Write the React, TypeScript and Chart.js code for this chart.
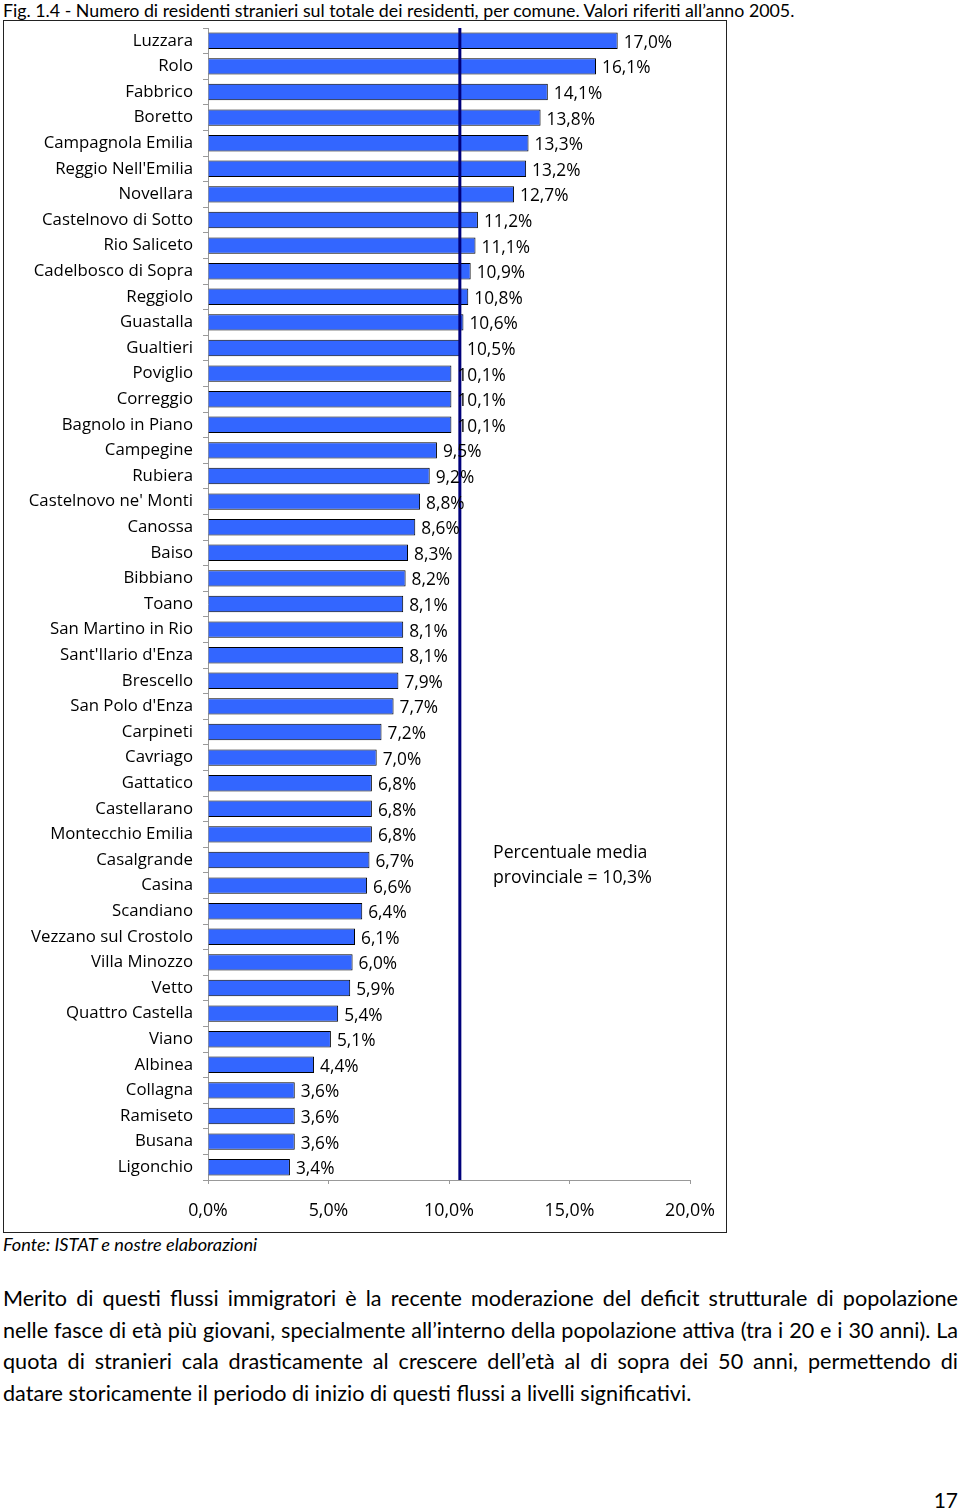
import React, { useEffect, useRef } from "react";
import { Chart, registerables } from "chart.js";

Chart.register(...registerables);

const comuni: string[] = [
  "Luzzara", "Rolo", "Fabbrico", "Boretto", "Campagnola Emilia", "Reggio Nell'Emilia",
  "Novellara", "Castelnovo di Sotto", "Rio Saliceto", "Cadelbosco di Sopra", "Reggiolo",
  "Guastalla", "Gualtieri", "Poviglio", "Correggio", "Bagnolo in Piano", "Campegine",
  "Rubiera", "Castelnovo ne' Monti", "Canossa", "Baiso", "Bibbiano", "Toano",
  "San Martino in Rio", "Sant'Ilario d'Enza", "Brescello", "San Polo d'Enza", "Carpineti",
  "Cavriago", "Gattatico", "Castellarano", "Montecchio Emilia", "Casalgrande", "Casina",
  "Scandiano", "Vezzano sul Crostolo", "Villa Minozzo", "Vetto", "Quattro Castella",
  "Viano", "Albinea", "Collagna", "Ramiseto", "Busana", "Ligonchio",
];

const quotaStranieri: number[] = [
  17.0, 16.1, 14.1, 13.8, 13.3, 13.2, 12.7, 11.2, 11.1, 10.9, 10.8, 10.6, 10.5, 10.1, 10.1,
  10.1, 9.5, 9.2, 8.8, 8.6, 8.3, 8.2, 8.1, 8.1, 8.1, 7.9, 7.7, 7.2, 7.0, 6.8, 6.8, 6.8, 6.7,
  6.6, 6.4, 6.1, 6.0, 5.9, 5.4, 5.1, 4.4, 3.6, 3.6, 3.6, 3.4,
];

const xTicks: number[] = [0, 5, 10, 15, 20];
const mediaProvinciale = 10.3;
const mediaLineaDisegnata = 10.45;

const titolo =
  "Fig. 1.4 - Numero di residenti stranieri sul totale dei residenti, per comune. Valori riferiti all\u2019anno 2005.";
const fonte = "Fonte: ISTAT e nostre elaborazioni";
const paragrafo: string[] = [
  "Merito di questi flussi immigratori \u00e8 la recente moderazione del deficit strutturale di popolazione",
  "nelle fasce di et\u00e0 pi\u00f9 giovani, specialmente all\u2019interno della popolazione attiva (tra i 20 e i 30 anni). La",
  "quota di stranieri cala drasticamente al crescere dell\u2019et\u00e0 al di sopra dei 50 anni, permettendo di",
  "datare storicamente il periodo di inizio di questi flussi a livelli significativi.",
];

const fmt = (v: number) => v.toFixed(1).replace(".", ",") + "%";

const FONT = "'Open Sans', 'DejaVu Sans', sans-serif";

export default function App() {
  const ref = useRef<HTMLCanvasElement | null>(null);

  useEffect(() => {
    if (!ref.current) return;
    const overlay = {
      id: "overlay",
      afterDatasetsDraw(chart: any) {
        const ctx = chart.ctx;
        const xs = chart.scales.x;
        const area = chart.chartArea;
        ctx.save();
        const mx = xs.getPixelForValue(mediaLineaDisegnata);
        ctx.strokeStyle = "#00007a";
        ctx.lineWidth = 3;
        ctx.beginPath();
        ctx.moveTo(mx, area.top);
        ctx.lineTo(mx, area.bottom);
        ctx.stroke();
        const meta = chart.getDatasetMeta(0);
        ctx.fillStyle = "#000";
        ctx.font = `17.3px ${FONT}`;
        ctx.textBaseline = "middle";
        ctx.textAlign = "left";
        meta.data.forEach((bar: any, i: number) => {
          ctx.fillText(fmt(quotaStranieri[i]), bar.x + 6, bar.y + 2);
        });
        ctx.restore();
      },
    };

    const chart = new Chart(ref.current, {
      type: "bar",
      data: {
        labels: comuni,
        datasets: [
          {
            data: quotaStranieri,
            backgroundColor: "#3366ff",
            borderColor: "#000",
            borderWidth: 1,
            barPercentage: 0.64,
            categoryPercentage: 1,
          },
        ],
      },
      options: {
        indexAxis: "y",
        animation: false,
        responsive: false,
        maintainAspectRatio: false,
        layout: { padding: { top: 7, right: 36, left: 0, bottom: 0 } },
        plugins: { legend: { display: false }, tooltip: { enabled: false } },
        scales: {
          x: {
            min: 0,
            max: 20,
            afterFit: (s: any) => {
              s.height = 52;
              s.paddingLeft = 0;
              s.paddingRight = 0;
            },
            afterBuildTicks: (s: any) => {
              s.ticks = xTicks.map((v) => ({ value: v }));
            },
            grid: { drawOnChartArea: false, tickLength: 4, color: "#999" },
            border: { color: "#999" },
            ticks: {
              padding: 16,
              color: "#000",
              font: { family: FONT, size: 17.8 },
              callback: (v: any) => fmt(Number(v)),
            },
          },
          y: {
            afterFit: (s: any) => {
              s.width = 204;
              s.paddingTop = 0;
              s.paddingBottom = 0;
            },
            grid: { drawOnChartArea: false, tickLength: 5, color: "#999", offset: true },
            border: { color: "#999" },
            ticks: {
              padding: 10,
              color: "#000",
              autoSkip: false,
              font: { family: FONT, size: 16.8 },
            },
          },
        },
      },
      plugins: [overlay],
    });
    return () => chart.destroy();
  }, []);

  return (
    <div
      style={{
        position: "absolute",
        left: 0,
        top: 0,
        width: 960,
        height: 1512,
        background: "#fff",
        fontFamily: FONT,
        color: "#000",
      }}
    >
      <div
        style={{
          position: "absolute",
          left: 3,
          top: -1,
          fontSize: 17.8,
          lineHeight: "22px",
          whiteSpace: "nowrap",
          fontFamily: "Lato, sans-serif",
        }}
      >
        {titolo}
      </div>
      <div
        style={{
          position: "absolute",
          left: 3,
          top: 20,
          width: 722,
          height: 1211,
          border: "1px solid #222",
        }}
      >
        <canvas ref={ref} width={722} height={1211} style={{ display: "block" }} />
        <div
          style={{
            position: "absolute",
            left: 489,
            top: 818,
            fontSize: 17.7,
            lineHeight: "25px",
            whiteSpace: "nowrap",
          }}
        >
          Percentuale media
          <br />
          provinciale = {fmt(mediaProvinciale)}
        </div>
      </div>
      <div
        style={{
          position: "absolute",
          left: 3,
          top: 1233,
          fontSize: 18.2,
          lineHeight: "22px",
          fontStyle: "italic",
          whiteSpace: "nowrap",
          fontFamily: "Lato, sans-serif",
        }}
      >
        {fonte}
      </div>
      <div
        style={{
          position: "absolute",
          left: 3,
          top: 1283,
          width: 955,
          fontSize: 21.6,
          lineHeight: "31.7px",
          fontFamily: "Lato, sans-serif",
        }}
      >
        {paragrafo.map((l, i) => (
          <div
            key={i}
            style={{
              textAlign: "justify",
              textAlignLast: i < paragrafo.length - 1 ? "justify" : "left",
              whiteSpace: "nowrap",
            }}
          >
            {l}
          </div>
        ))}
      </div>
      <div
        style={{
          position: "absolute",
          right: 2,
          top: 1486,
          fontSize: 21,
          lineHeight: "28px",
          fontFamily: "Lato, sans-serif",
        }}
      >
        17
      </div>
    </div>
  );
}
